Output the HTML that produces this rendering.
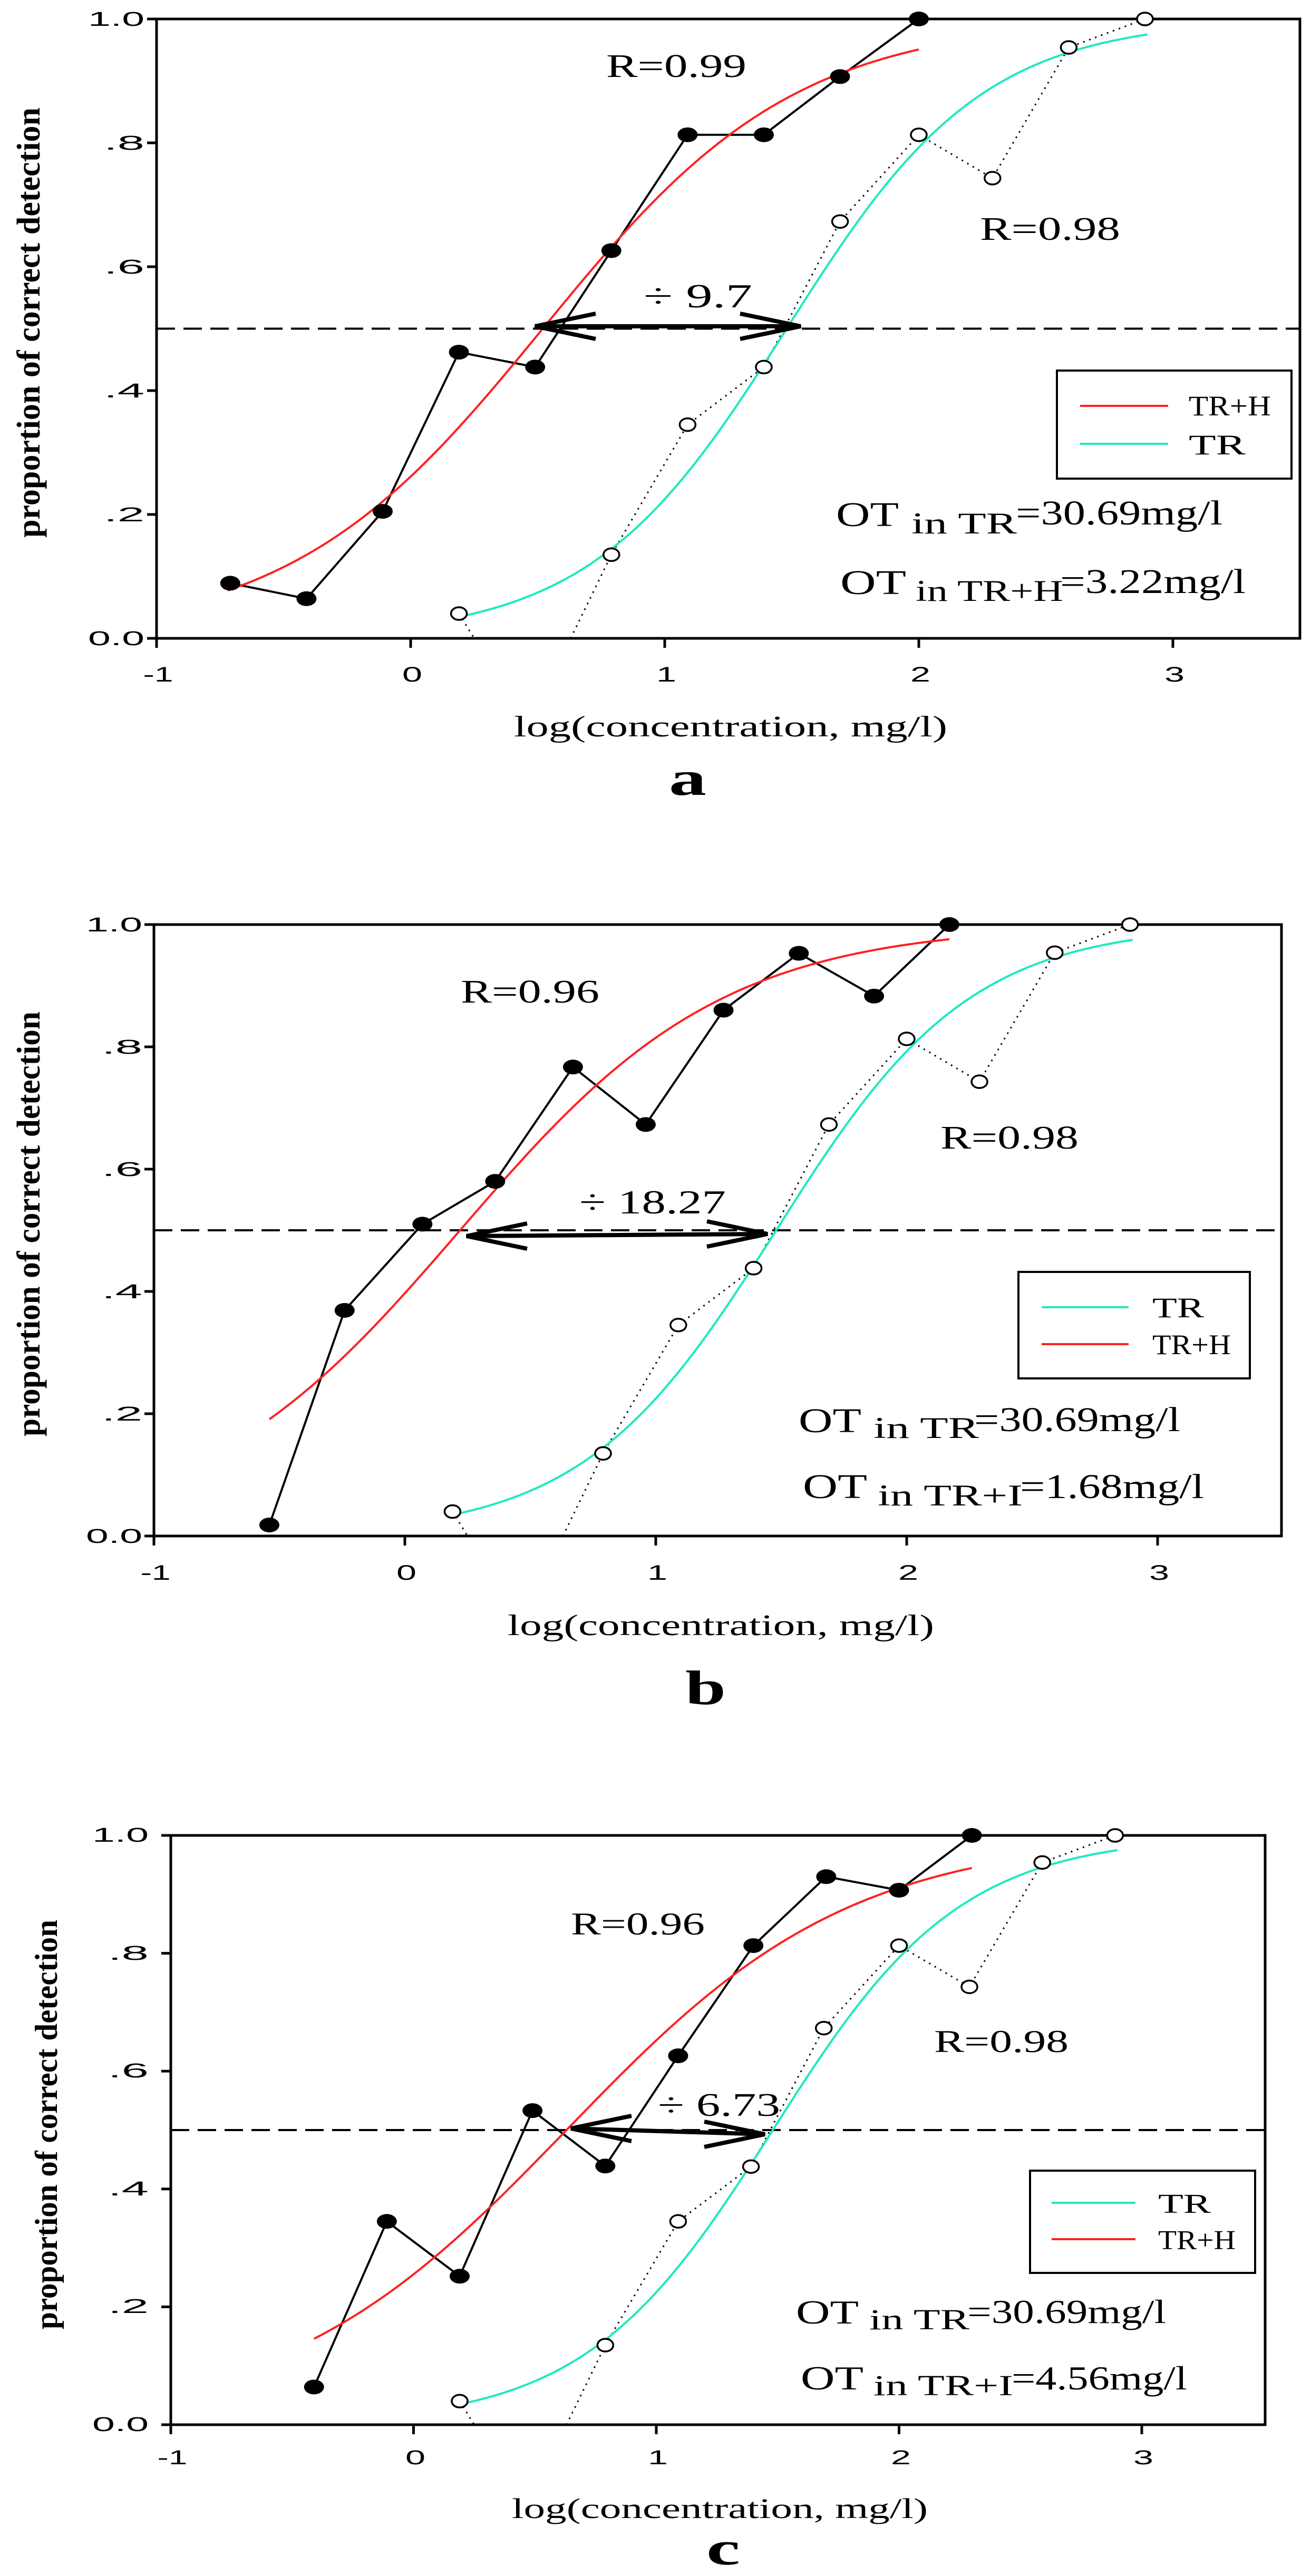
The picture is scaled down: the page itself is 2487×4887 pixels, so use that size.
<!DOCTYPE html>
<html><head><meta charset="utf-8"><style>
html,body{margin:0;padding:0;background:#fff}
svg{display:block}
.t{font-family:"Liberation Sans",sans-serif;font-size:38px;fill:#000}
.s{font-family:"Liberation Serif",serif;fill:#000}
</style></head><body>
<svg id="sv" xmlns="http://www.w3.org/2000/svg" width="2487" height="4887" viewBox="0 0 2487 4887">
<rect width="2487" height="4887" fill="#fff"/>
<g id="g"></g>

<!-- Panel a texts -->
<g class="t" text-anchor="end">
<text x="274" y="1224" textLength="107" lengthAdjust="spacingAndGlyphs">0.0</text>
<text x="274" y="989" textLength="77" lengthAdjust="spacingAndGlyphs">.2</text>
<text x="274" y="754" textLength="77" lengthAdjust="spacingAndGlyphs">.4</text>
<text x="274" y="519" textLength="77" lengthAdjust="spacingAndGlyphs">.6</text>
<text x="274" y="284" textLength="77" lengthAdjust="spacingAndGlyphs">.8</text>
<text x="274" y="49" textLength="107" lengthAdjust="spacingAndGlyphs">1.0</text>
</g>
<g class="t" text-anchor="middle" style="font-size:40px">
<text x="300" y="1293" textLength="57" lengthAdjust="spacingAndGlyphs">-1</text>
<text x="782" y="1293" textLength="38" lengthAdjust="spacingAndGlyphs">0</text>
<text x="1264" y="1293" textLength="38" lengthAdjust="spacingAndGlyphs">1</text>
<text x="1746" y="1293" textLength="38" lengthAdjust="spacingAndGlyphs">2</text>
<text x="2228" y="1293" textLength="38" lengthAdjust="spacingAndGlyphs">3</text>
</g>
<g class="s">
<text x="1150" y="146" font-size="62" textLength="266" lengthAdjust="spacingAndGlyphs">R=0.99</text>
<text x="1859" y="455" font-size="62" textLength="266" lengthAdjust="spacingAndGlyphs">R=0.98</text>
<text x="1221" y="583" font-size="64" textLength="206" lengthAdjust="spacingAndGlyphs">÷ 9.7</text>
<text x="2255" y="788" font-size="54" textLength="156" lengthAdjust="spacingAndGlyphs">TR+H</text>
<text x="2255" y="862" font-size="54" textLength="108" lengthAdjust="spacingAndGlyphs">TR</text>
<text x="1586" y="998" font-size="66" textLength="119" lengthAdjust="spacingAndGlyphs">OT</text>
<text x="1729" y="1012" font-size="57" textLength="200" lengthAdjust="spacingAndGlyphs">in TR</text>
<text x="1927" y="995" font-size="66" textLength="392" lengthAdjust="spacingAndGlyphs">=30.69mg/l</text>
<text x="1594" y="1127" font-size="66" textLength="125" lengthAdjust="spacingAndGlyphs">OT</text>
<text x="1737" y="1140" font-size="57" textLength="280" lengthAdjust="spacingAndGlyphs">in TR+H</text>
<text x="2011" y="1125" font-size="66" textLength="352" lengthAdjust="spacingAndGlyphs">=3.22mg/l</text>
<text x="975" y="1397" font-size="56" textLength="822" lengthAdjust="spacingAndGlyphs">log(concentration, mg/l)</text>
<text x="1269" y="1508" font-size="92" font-weight="bold" textLength="71" lengthAdjust="spacingAndGlyphs">a</text>
<text transform="translate(75,1020) rotate(-90)" font-size="62" font-weight="bold" textLength="816" lengthAdjust="spacingAndGlyphs">proportion of correct detection</text>
</g>

<!-- Panel b texts -->
<g class="t" text-anchor="end">
<text x="270" y="2927" textLength="107" lengthAdjust="spacingAndGlyphs">0.0</text>
<text x="270" y="2695" textLength="77" lengthAdjust="spacingAndGlyphs">.2</text>
<text x="270" y="2463" textLength="77" lengthAdjust="spacingAndGlyphs">.4</text>
<text x="270" y="2231" textLength="77" lengthAdjust="spacingAndGlyphs">.6</text>
<text x="270" y="1999" textLength="77" lengthAdjust="spacingAndGlyphs">.8</text>
<text x="270" y="1767" textLength="107" lengthAdjust="spacingAndGlyphs">1.0</text>
</g>
<g class="t" text-anchor="middle" style="font-size:40px">
<text x="295" y="2997" textLength="57" lengthAdjust="spacingAndGlyphs">-1</text>
<text x="771" y="2997" textLength="38" lengthAdjust="spacingAndGlyphs">0</text>
<text x="1247" y="2997" textLength="38" lengthAdjust="spacingAndGlyphs">1</text>
<text x="1723" y="2997" textLength="38" lengthAdjust="spacingAndGlyphs">2</text>
<text x="2199" y="2997" textLength="38" lengthAdjust="spacingAndGlyphs">3</text>
</g>
<g class="s">
<text x="874" y="1902" font-size="62" textLength="263" lengthAdjust="spacingAndGlyphs">R=0.96</text>
<text x="1784" y="2179" font-size="62" textLength="262" lengthAdjust="spacingAndGlyphs">R=0.98</text>
<text x="1099" y="2302" font-size="64" textLength="278" lengthAdjust="spacingAndGlyphs">÷ 18.27</text>
<text x="2186" y="2499" font-size="54" textLength="98" lengthAdjust="spacingAndGlyphs">TR</text>
<text x="2186" y="2569" font-size="54" textLength="149" lengthAdjust="spacingAndGlyphs">TR+H</text>
<text x="1515" y="2717" font-size="66" textLength="119" lengthAdjust="spacingAndGlyphs">OT</text>
<text x="1657" y="2728" font-size="57" textLength="200" lengthAdjust="spacingAndGlyphs">in TR</text>
<text x="1848" y="2715" font-size="66" textLength="391" lengthAdjust="spacingAndGlyphs">=30.69mg/l</text>
<text x="1523" y="2842" font-size="66" textLength="122" lengthAdjust="spacingAndGlyphs">OT</text>
<text x="1665" y="2856" font-size="57" textLength="275" lengthAdjust="spacingAndGlyphs">in TR+I</text>
<text x="1935" y="2842" font-size="66" textLength="349" lengthAdjust="spacingAndGlyphs">=1.68mg/l</text>
<text x="963" y="3102" font-size="56" textLength="809" lengthAdjust="spacingAndGlyphs">log(concentration, mg/l)</text>
<text x="1300" y="3233" font-size="92" font-weight="bold" textLength="77" lengthAdjust="spacingAndGlyphs">b</text>
<text transform="translate(75,2725) rotate(-90)" font-size="62" font-weight="bold" textLength="806" lengthAdjust="spacingAndGlyphs">proportion of correct detection</text>
</g>

<!-- Panel c texts -->
<g class="t" text-anchor="end">
<text x="282" y="4612" textLength="107" lengthAdjust="spacingAndGlyphs">0.0</text>
<text x="282" y="4388" textLength="77" lengthAdjust="spacingAndGlyphs">.2</text>
<text x="282" y="4165" textLength="77" lengthAdjust="spacingAndGlyphs">.4</text>
<text x="282" y="3941" textLength="77" lengthAdjust="spacingAndGlyphs">.6</text>
<text x="282" y="3718" textLength="77" lengthAdjust="spacingAndGlyphs">.8</text>
<text x="282" y="3494" textLength="107" lengthAdjust="spacingAndGlyphs">1.0</text>
</g>
<g class="t" text-anchor="middle" style="font-size:38px">
<text x="327" y="4675" textLength="57" lengthAdjust="spacingAndGlyphs">-1</text>
<text x="788" y="4675" textLength="38" lengthAdjust="spacingAndGlyphs">0</text>
<text x="1248" y="4675" textLength="38" lengthAdjust="spacingAndGlyphs">1</text>
<text x="1709" y="4675" textLength="38" lengthAdjust="spacingAndGlyphs">2</text>
<text x="2169" y="4675" textLength="38" lengthAdjust="spacingAndGlyphs">3</text>
</g>
<g class="s">
<text x="1083" y="3670" font-size="60" textLength="254" lengthAdjust="spacingAndGlyphs">R=0.96</text>
<text x="1772" y="3893" font-size="60" textLength="255" lengthAdjust="spacingAndGlyphs">R=0.98</text>
<text x="1248" y="4014" font-size="62" textLength="232" lengthAdjust="spacingAndGlyphs">÷ 6.73</text>
<text x="2197" y="4198" font-size="52" textLength="100" lengthAdjust="spacingAndGlyphs">TR</text>
<text x="2197" y="4267" font-size="52" textLength="147" lengthAdjust="spacingAndGlyphs">TR+H</text>
<text x="1510" y="4408" font-size="63" textLength="119" lengthAdjust="spacingAndGlyphs">OT</text>
<text x="1649" y="4419" font-size="55" textLength="190" lengthAdjust="spacingAndGlyphs">in TR</text>
<text x="1835" y="4407" font-size="63" textLength="377" lengthAdjust="spacingAndGlyphs">=30.69mg/l</text>
<text x="1519" y="4533" font-size="63" textLength="119" lengthAdjust="spacingAndGlyphs">OT</text>
<text x="1657" y="4544" font-size="55" textLength="265" lengthAdjust="spacingAndGlyphs">in TR+I</text>
<text x="1919" y="4533" font-size="63" textLength="333" lengthAdjust="spacingAndGlyphs">=4.56mg/l</text>
<text x="971" y="4777" font-size="54" textLength="789" lengthAdjust="spacingAndGlyphs">log(concentration, mg/l)</text>
<text x="1340" y="4865" font-size="90" font-weight="bold" textLength="64" lengthAdjust="spacingAndGlyphs">c</text>
<text transform="translate(108,4419) rotate(-90)" font-size="60" font-weight="bold" textLength="777" lengthAdjust="spacingAndGlyphs">proportion of correct detection</text>
</g>
</svg>
<script>
(function(){
var NS="http://www.w3.org/2000/svg",g=document.getElementById("g");
function el(n,a){var e=document.createElementNS(NS,n);for(var k in a)e.setAttribute(k,a[k]);g.appendChild(e);return e;}
var open=[[0.19,0.04],[0.79,0.135],[1.09,0.345],[1.39,0.438],[1.69,0.673],[2.0,0.813],[2.29,0.743],[2.59,0.954],[2.89,1.0]];
var P=[
{X0:297,U:482,Y0:1211,H:1175,R:2466,red:[2,0.52,-0.72,2.0],
 f:[[-0.71,0.089],[-0.41,0.064],[-0.11,0.205],[0.19,0.462],[0.49,0.438],[0.79,0.626],[1.09,0.813],[1.39,0.813],[1.69,0.907],[2.0,1.0]],
 ar:[1015,619,1519,619],leg:[2005,703,2450,908],ll:[2049,2216,770,842],legOrder:0},
{X0:292,U:476,Y0:2914,H:1160,R:2431,red:[1.9,0.22,-0.54,2.17],
 f:[[-0.54,0.018],[-0.24,0.369],[0.07,0.51],[0.36,0.58],[0.67,0.767],[0.96,0.673],[1.27,0.86],[1.57,0.953],[1.87,0.883],[2.17,1.0]],
 ar:[885,2345,1456,2341],leg:[1932,2413,2371,2615],ll:[1976,2141,2480,2550],legOrder:1},
{X0:324,U:460.5,Y0:4600,H:1118,R:2400,red:[1.7,0.63,-0.41,2.3],
 f:[[-0.41,0.064],[-0.11,0.345],[0.19,0.252],[0.49,0.533],[0.79,0.439],[1.09,0.626],[1.40,0.813],[1.70,0.93],[2.0,0.907],[2.30,1.0]],
 ar:[1083,4038,1451,4049],leg:[1954,4118,2381,4312],ll:[1995,2154,4179,4248],legOrder:1}
];
P.forEach(function(p){
 function X(x){return p.X0+(x+1)*p.U;} function Y(y){return p.Y0-p.H*y;}
 var top=Y(1);
 el("rect",{x:p.X0,y:top,width:p.R-p.X0,height:p.Y0-top,fill:"none",stroke:"#000","stroke-width":5});
 for(var i=0;i<=4;i++)el("line",{x1:X(i-1),y1:p.Y0,x2:X(i-1),y2:p.Y0+18,stroke:"#000","stroke-width":5});
 for(var j=0;j<=5;j++)el("line",{x1:p.X0-18,y1:Y(j/5),x2:p.X0,y2:Y(j/5),stroke:"#000","stroke-width":5});
 el("line",{x1:p.X0,y1:Y(0.5),x2:p.R,y2:Y(0.5),stroke:"#000","stroke-width":4,"stroke-dasharray":"35 16"});
 function curve(k,m,a,b,col){var d="";for(var t=0;t<=80;t++){var x=a+(b-a)*t/80,y=1/(1+Math.exp(-k*(x-m)));d+=(t?"L":"M")+X(x).toFixed(1)+","+Y(y).toFixed(1);}
  el("path",{d:d,fill:"none",stroke:col,"stroke-width":4});}
 // dotted open series
 var d="M"+X(0.19)+","+Y(0.04)+"L"+X(0.25)+","+Y(0)+"M"+X(0.63)+","+Y(0);
 for(var i=1;i<open.length;i++)d+="L"+X(open[i][0])+","+Y(open[i][1]);
 el("path",{d:d,fill:"none",stroke:"#000","stroke-width":3,"stroke-dasharray":"3 9"});
 var d2="";p.f.forEach(function(q,i){d2+=(i?"L":"M")+X(q[0])+","+Y(q[1]);});
 el("path",{d:d2,fill:"none",stroke:"#000","stroke-width":4});
 curve(2.58,1.48,0.2,2.9,"#1de9c0");
 curve(p.red[0],p.red[1],p.red[2],p.red[3],"#ff2020");
 p.f.forEach(function(q){el("ellipse",{cx:X(q[0]),cy:Y(q[1]),rx:19,ry:14,fill:"#000"});});
 open.forEach(function(q){el("ellipse",{cx:X(q[0]),cy:Y(q[1]),rx:15,ry:12,fill:"#fff",stroke:"#000","stroke-width":3.5});});
 // arrow
 var a=p.ar;
 el("line",{x1:a[0],y1:a[1],x2:a[2],y2:a[3],stroke:"#000","stroke-width":8});
 el("path",{d:"M"+(a[0]+115)+","+(a[1]-24)+"L"+a[0]+","+a[1]+"L"+(a[0]+115)+","+(a[1]+24),fill:"none",stroke:"#000","stroke-width":8});
 el("path",{d:"M"+(a[2]-115)+","+(a[3]-24)+"L"+a[2]+","+a[3]+"L"+(a[2]-115)+","+(a[3]+24),fill:"none",stroke:"#000","stroke-width":8});
 // legend
 var L=p.leg;
 el("rect",{x:L[0],y:L[1],width:L[2]-L[0],height:L[3]-L[1],fill:"none",stroke:"#000","stroke-width":4});
 var c1=p.legOrder?"#1de9c0":"#ff2020",c2=p.legOrder?"#ff2020":"#1de9c0";
 el("line",{x1:p.ll[0],y1:p.ll[2],x2:p.ll[1],y2:p.ll[2],stroke:c1,"stroke-width":4});
 el("line",{x1:p.ll[0],y1:p.ll[3],x2:p.ll[1],y2:p.ll[3],stroke:c2,"stroke-width":4});
});
})();
</script>
</body></html>
